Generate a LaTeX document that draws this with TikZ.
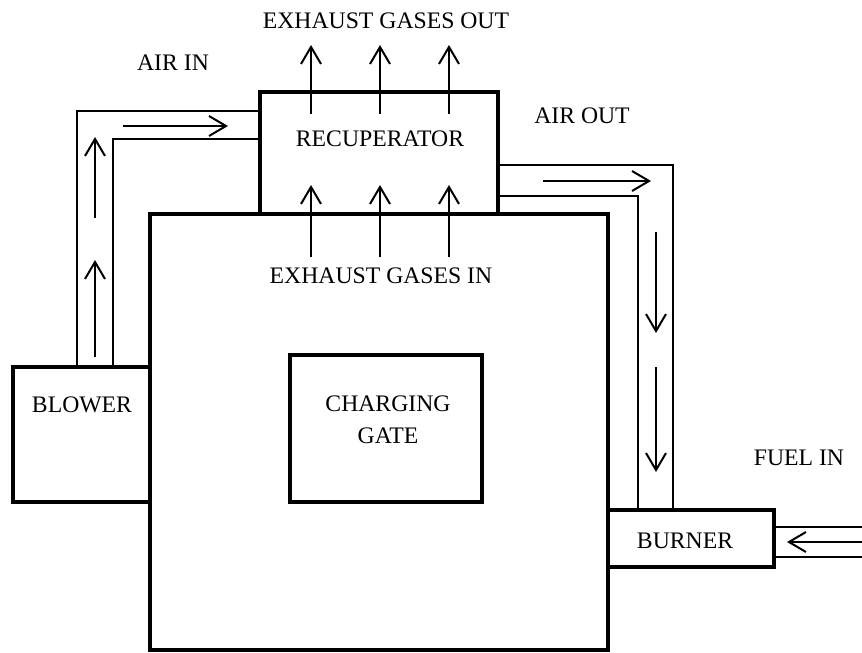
\documentclass[tikz,border=0pt]{standalone}
\usepackage{fontspec}
\setmainfont{Liberation Serif}
\usetikzlibrary{arrows.meta}
\tikzset{
  box/.style={draw, line width=4bp, inner sep=0pt, outer sep=0pt},
  duct/.style={draw, line width=1.3bp},
  arr/.style={draw, line width=2bp, -{Straight Barb[length=17bp,width=20bp,line width=2bp]}},
  lbl/.style={inner sep=0pt, font=\fontsize{23.7bp}{32bp}\selectfont, align=center}
}
\begin{document}
\begin{tikzpicture}[x=1bp,y=-1bp]
\useasboundingbox (0,0) rectangle (862,653);
% boxes
\node[box, minimum width=458bp, minimum height=436bp] (furnace) at (379,432) {};
\node[box, minimum width=238bp, minimum height=122bp] (recup) at (379,153) {};
\node[box, minimum width=137bp, minimum height=135bp] (blower) at (81.5,434.5) {};
\node[box, minimum width=192bp, minimum height=147bp] (gate) at (386,428.5) {};
\node[box, minimum width=166bp, minimum height=57bp] (burner) at (691,538.5) {};
% left duct (blower -> recuperator)
\draw[duct] (blower.north -| 77,0) -- (77,111) -- (recup.west |- 0,111);
\draw[duct] (blower.north -| 113,0) -- (113,139) -- (recup.west |- 0,139);
% right duct (recuperator -> burner)
\draw[duct] (recup.east |- 0,165) -- (673,165) -- (burner.north -| 673,0);
\draw[duct] (recup.east |- 0,196) -- (638,196) -- (burner.north -| 638,0);
% fuel duct
\draw[duct] (burner.east |- 0,527) -- (862,527);
\draw[duct] (burner.east |- 0,557) -- (862,557);
% flow arrows
\draw[arr] (95,357) -- (95,260);
\draw[arr] (95,218) -- (95,137);
\draw[arr] (123,126) -- (228,126);
\draw[arr] (543,181) -- (651,181);
\draw[arr] (656,232) -- (656,333);
\draw[arr] (656,367) -- (656,472);
\draw[arr] (862,542) -- (787,542);
\foreach \xx in {311,380,449} {
  \draw[arr] (\xx,114) -- (\xx,45);
  \draw[arr] (\xx,257) -- (\xx,185);
}
% labels
\node[lbl] (tout) at (386,21) {EXHAUST GASES OUT};
\node[lbl] (tairin) at (173,63) {AIR IN};
\node[lbl] (tairout) at (582,116) {AIR OUT};
\node[lbl] (trec) at (380,139) {RECUPERATOR};
\node[lbl] (tin) at (381,276) {EXHAUST GASES IN};
\node[lbl] (tblow) at (82,405) {BLOWER};
\node[lbl] (tgate) at (388,420) {CHARGING\\GATE};
\node[lbl] (tfuel) at (799,458) {FUEL IN};
\node[lbl] (tburn) at (685,541) {BURNER};
\end{tikzpicture}
\end{document}
